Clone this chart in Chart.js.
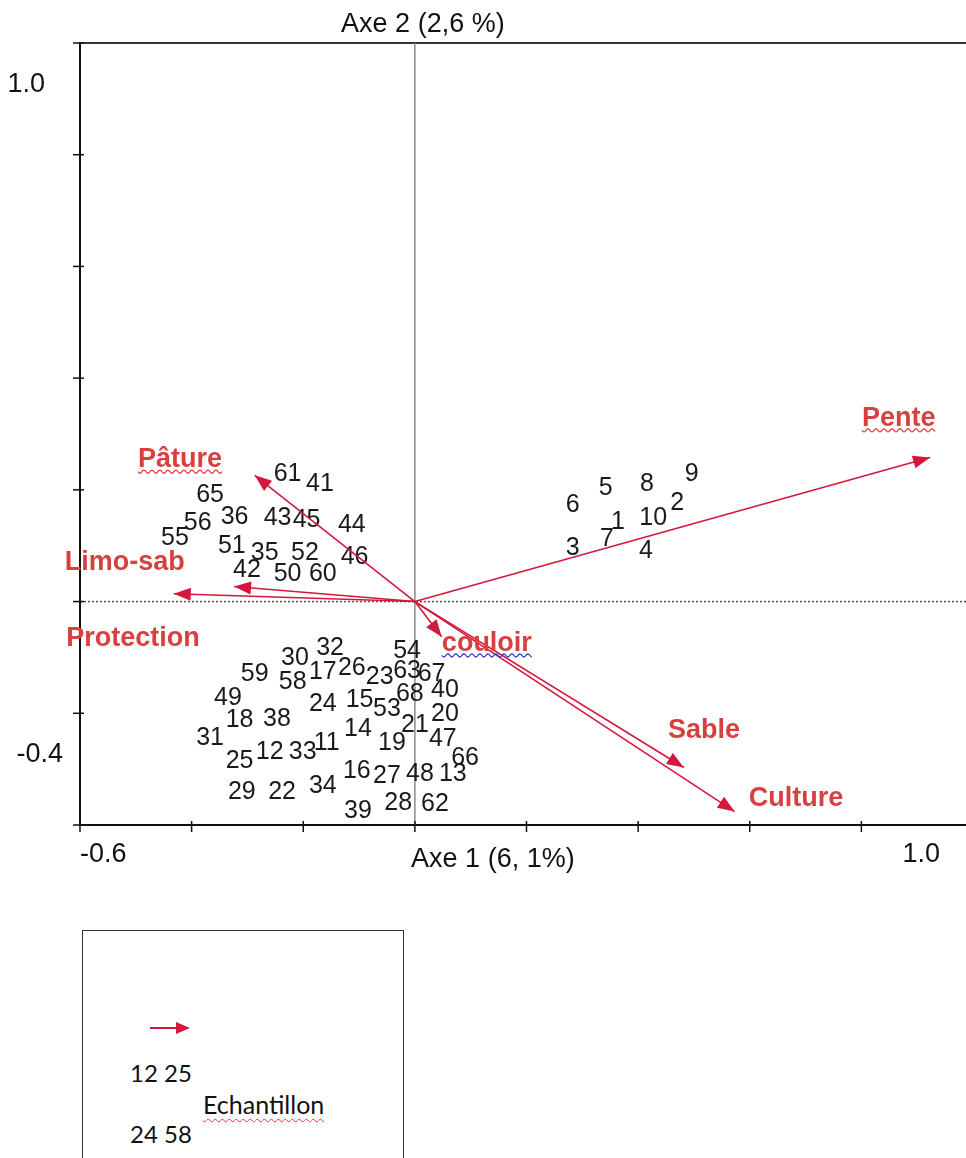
<!DOCTYPE html>
<html lang="fr">
<head>
<meta charset="utf-8">
<title>Axe 1 / Axe 2</title>
<script src="https://cdn.jsdelivr.net/npm/chart.js@4.4.1/dist/chart.umd.min.js"></script>
<style>
  html, body { margin: 0; padding: 0; background: #fff; overflow: hidden; width: 966px; height: 1158px; }
  #wrap { position: absolute; left: 0; top: 0; width: 1000px; height: 900px; }
  #legend { position: absolute; left: 82px; top: 930px; width: 320px; height: 280px; border: 1.5px solid #333;
            font-family: Lato, "Open Sans", sans-serif; font-size: 24px; color: #111; }
  #legend svg { position: absolute; left: 67px; top: 90px; }
  #legend .t { position: absolute; white-space: nowrap; line-height: 1; }
  .wavy { text-decoration: underline wavy #e03a3a; text-decoration-thickness: 1px; text-underline-offset: 4px; }
</style>
</head>
<body>
<div id="wrap"><canvas id="biplot" width="1000" height="900"></canvas></div>
<div id="legend">
  <svg width="42" height="14"><line x1="0" y1="7" x2="28" y2="7" stroke="#d4173c" stroke-width="2"/><polygon points="40,7 26,1 26,13" fill="#d4173c"/></svg>
  <span class="t" style="left:47px; top:130px;">12 25</span>
  <span class="t wavy" style="left:120px; top:161px; font-size:25px;">Echantillon</span>
  <span class="t" style="left:47px; top:191px;">24 58</span>
</div>
<script>
// samples (site scores)
const sampleIds = ['1','2','3','4','5','6','7','8','9','10',
  '11','12','13','14','15','16','17','18','19','20',
  '21','22','23','24','25','26','27','28','29','30',
  '31','32','33','34','35','36','38','39','40',
  '41','42','43','44','45','46','47','48','49','50',
  '51','52','53','54','55','56','58','59','60',
  '61','62','63','65','66','67','68'];
const sampleX = [0.364,0.470,0.283,0.414,0.342,0.283,0.344,0.416,0.496,0.427,
  -0.158,-0.260,0.068,-0.102,-0.099,-0.104,-0.165,-0.314,-0.041,0.054,
  0.000,-0.238,-0.063,-0.165,-0.314,-0.113,-0.050,-0.030,-0.310,-0.215,
  -0.367,-0.152,-0.201,-0.165,-0.269,-0.323,-0.247,-0.102,0.054,
  -0.170,-0.301,-0.246,-0.113,-0.194,-0.108,0.050,0.009,-0.335,-0.228,
  -0.328,-0.197,-0.050,-0.014,-0.430,-0.389,-0.219,-0.287,-0.165,
  -0.228,0.036,-0.014,-0.367,0.090,0.030,-0.009];
const sampleY = [0.142,0.177,0.095,0.091,0.204,0.172,0.111,0.211,0.229,0.149,
  -0.254,-0.269,-0.308,-0.228,-0.177,-0.303,-0.127,-0.213,-0.253,-0.201,
  -0.222,-0.342,-0.136,-0.183,-0.285,-0.120,-0.312,-0.360,-0.342,-0.102,
  -0.244,-0.084,-0.269,-0.330,0.086,0.151,-0.210,-0.375,-0.159,
  0.211,0.056,0.149,0.136,0.145,0.079,-0.247,-0.308,-0.172,0.050,
  0.100,0.086,-0.192,-0.088,0.113,0.140,-0.145,-0.129,0.050,
  0.229,-0.362,-0.124,0.190,-0.280,-0.129,-0.165];

// environmental variables (arrows)
const varNames = ['Pente','Pâture','Limo-sab','Protection','couloir','Sable','Culture'];
const varX = [0.923,-0.287,-0.432,-0.324,0.048,0.482,0.573];
const varY = [0.258,0.226,0.014,0.027,-0.063,-0.297,-0.376];
const varLabelX = [0.867,-0.421,-0.520,-0.505,0.129,0.518,0.683];
const varLabelY = [0.328,0.254,0.070,-0.066,-0.075,-0.231,-0.353];
const varUnderline = ['red','red','','','blue','',''];

// axis
const xTitle = 'Axe 1 (6, 1%)';
const yTitle = 'Axe 2 (2,6 %)';
const xTickValues = [-0.6, 1.0];
const xTickLabels = ['-0.6', '1.0'];
const yTickValues = [1.0, -0.4];
const yTickLabels = ['1.0', '-0.4'];

const RED_LINE = '#d4173c';
const RED_TEXT = '#d8403f';
const FONT = '"Liberation Sans", Arial, sans-serif';

const datasets = [{
  label: 'Echantillon',
  data: sampleIds.map((id, i) => ({ x: sampleX[i], y: sampleY[i] })),
  pointRadius: 0,
  showLine: false
}];
varNames.forEach((name, i) => {
  datasets.push({
    label: name,
    data: [{ x: 0, y: 0 }, { x: varX[i], y: varY[i] }],
    showLine: true,
    borderColor: RED_LINE,
    borderWidth: 1.6,
    pointRadius: 0,
    fill: false
  });
});

function wavy(ctx, x0, x1, y, color) {
  ctx.save();
  ctx.strokeStyle = color;
  ctx.lineWidth = 1.2;
  ctx.beginPath();
  for (let x = x0; x <= x1; x += 1) {
    const yy = y + Math.sin((x - x0) / 4 * Math.PI) * 1.6;
    if (x === x0) ctx.moveTo(x, yy); else ctx.lineTo(x, yy);
  }
  ctx.stroke();
  ctx.restore();
}

const biplotPlugin = {
  id: 'biplot',
  beforeDatasetsDraw(chart) {
    const { ctx, chartArea: a, scales: { x, y } } = chart;
    const x0 = x.getPixelForValue(0), y0 = y.getPixelForValue(0);
    ctx.save();
    // top frame
    ctx.strokeStyle = '#333';
    ctx.lineWidth = 2;
    ctx.beginPath(); ctx.moveTo(a.left, a.top); ctx.lineTo(a.right, a.top); ctx.stroke();
    // vertical zero axis
    ctx.strokeStyle = '#8a8a8a';
    ctx.lineWidth = 1.5;
    ctx.beginPath(); ctx.moveTo(x0, a.top); ctx.lineTo(x0, a.bottom); ctx.stroke();
    // horizontal zero axis, dotted
    ctx.strokeStyle = '#555';
    ctx.lineWidth = 1.5;
    ctx.setLineDash([2, 2]);
    ctx.beginPath(); ctx.moveTo(a.left, y0); ctx.lineTo(a.right, y0); ctx.stroke();
    ctx.setLineDash([]);

    // sample numbers
    ctx.fillStyle = '#1a1a1a';
    ctx.font = '25px ' + FONT;
    ctx.textAlign = 'center';
    ctx.textBaseline = 'middle';
    const meta = chart.getDatasetMeta(0);
    meta.data.forEach((pt, i) => ctx.fillText(sampleIds[i], pt.x, pt.y));
    ctx.restore();
  },
  afterDatasetsDraw(chart) {
    const { ctx, chartArea: a, scales: { x, y } } = chart;
    ctx.save();
    // arrow heads
    varNames.forEach((name, i) => {
      const pts = chart.getDatasetMeta(i + 1).data;
      const sx = pts[0].x, sy = pts[0].y, ex = pts[1].x, ey = pts[1].y;
      const ang = Math.atan2(ey - sy, ex - sx);
      const len = 17, half = 6.5;
      ctx.fillStyle = RED_LINE;
      ctx.beginPath();
      ctx.moveTo(ex, ey);
      ctx.lineTo(ex - len * Math.cos(ang) + half * Math.sin(ang), ey - len * Math.sin(ang) - half * Math.cos(ang));
      ctx.lineTo(ex - len * Math.cos(ang) - half * Math.sin(ang), ey - len * Math.sin(ang) + half * Math.cos(ang));
      ctx.closePath();
      ctx.fill();
    });
    // variable labels
    ctx.font = 'bold 27px ' + FONT;
    ctx.textAlign = 'center';
    ctx.textBaseline = 'middle';
    varNames.forEach((name, i) => {
      const px = x.getPixelForValue(varLabelX[i]);
      const py = y.getPixelForValue(varLabelY[i]);
      ctx.fillStyle = RED_TEXT;
      ctx.fillText(name, px, py);
      if (varUnderline[i]) {
        const w = ctx.measureText(name).width;
        wavy(ctx, px - w / 2, px + w / 2, py + 12, varUnderline[i] === 'red' ? '#e03a3a' : '#2b3fd6');
      }
    });

    // tick marks crossing the axes
    ctx.strokeStyle = '#111';
    ctx.lineWidth = 1.5;
    x.ticks.forEach(t => {
      const px = x.getPixelForValue(t.value);
      ctx.beginPath(); ctx.moveTo(px, a.bottom - 4); ctx.lineTo(px, a.bottom + 7); ctx.stroke();
    });
    y.ticks.forEach(t => {
      const py = y.getPixelForValue(t.value);
      ctx.beginPath(); ctx.moveTo(a.left - 7, py); ctx.lineTo(a.left + 4, py); ctx.stroke();
    });

    // corner tick labels and axis titles
    ctx.fillStyle = '#111';
    ctx.font = '27px ' + FONT;
    ctx.textBaseline = 'middle';
    ctx.textAlign = 'left';
    ctx.fillText(xTickLabels[0], x.getPixelForValue(xTickValues[0]), a.bottom + 30);
    ctx.textAlign = 'right';
    ctx.fillText(xTickLabels[1], x.getPixelForValue(xTickValues[1]) - 33, a.bottom + 30);
    ctx.fillText(yTickLabels[0], a.left - 35, y.getPixelForValue(yTickValues[0]) + 42);
    ctx.fillText(yTickLabels[1], a.left - 17, y.getPixelForValue(yTickValues[1]) - 70);
    ctx.textAlign = 'center';
    ctx.fillText(xTitle, x.getPixelForValue(0) + 78, a.bottom + 35);
    ctx.fillText(yTitle, x.getPixelForValue(0) + 8, a.top - 18);
    ctx.restore();
  }
};

new Chart(document.getElementById('biplot'), {
  type: 'scatter',
  data: { datasets },
  plugins: [biplotPlugin],
  options: {
    responsive: false,
    animation: false,
    devicePixelRatio: 1,
    layout: { padding: { top: 43, right: 27, left: 0, bottom: 0 } },
    plugins: { legend: { display: false }, tooltip: { enabled: false } },
    scales: {
      x: {
        type: 'linear', min: -0.6, max: 1.0,
        ticks: { stepSize: 0.2, display: false },
        grid: { display: false },
        border: { display: true, color: '#111', width: 2 },
        afterFit: s => { s.height = 75; }
      },
      y: {
        type: 'linear', min: -0.4, max: 1.0,
        ticks: { stepSize: 0.2, display: false },
        grid: { display: false },
        border: { display: true, color: '#111', width: 2 },
        afterFit: s => { s.width = 80; }
      }
    }
  }
});
</script>
</body>
</html>
